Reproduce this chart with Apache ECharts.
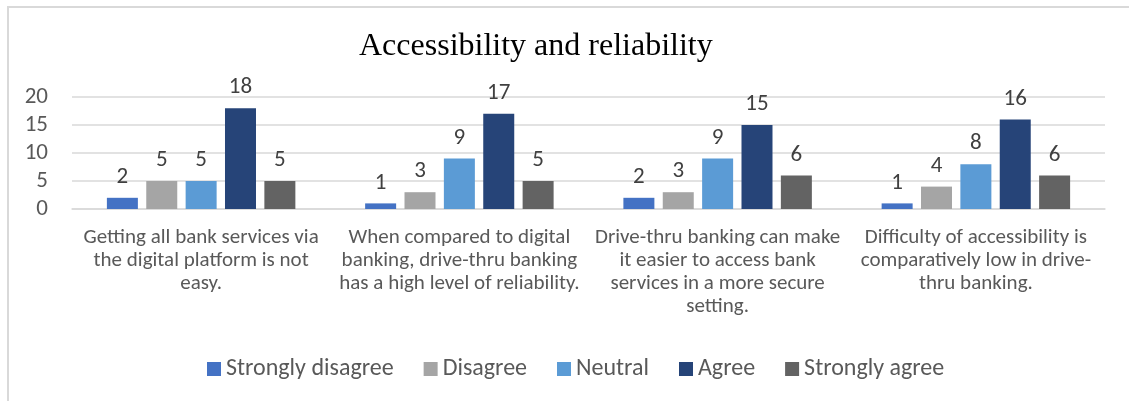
<!DOCTYPE html>
<html>
<head>
<meta charset="utf-8">
<script src="https://cdn.jsdelivr.net/npm/echarts@6/dist/echarts.min.js"></script>
<style>
  html, body { margin: 0; padding: 0; background: #fff; }
  #frame { position: absolute; left: 7px; top: 6px; width: 1140px; height: 420px;
           border-top: 2px solid #d9d9d9; border-left: 2px solid #d9d9d9; box-sizing: border-box; }
  #chart { position: absolute; left: 0; top: 0; width: 1129px; height: 401px; }
</style>
</head>
<body>
<div id="frame"></div>
<div id="chart"></div>
<script>
const categories = [
  'Getting all bank services via\nthe digital platform is not\neasy.',
  'When compared to digital\nbanking, drive-thru banking\nhas a high level of reliability.',
  'Drive-thru banking can make\nit easier to access bank\nservices in a more secure\nsetting.',
  'Difficulty of accessibility is\ncomparatively low in drive-\nthru banking.'
];
const seriesNames = ['Strongly disagree', 'Disagree', 'Neutral', 'Agree', 'Strongly agree'];
const stronglyDisagree = [2, 1, 2, 1];
const disagree = [5, 3, 3, 4];
const neutral = [5, 9, 9, 8];
const agree = [18, 17, 15, 16];
const stronglyAgree = [5, 5, 6, 6];
const yTicks = [0, 5, 10, 15, 20];

const colors = ['#4472C4', '#A5A5A5', '#5B9BD5', '#264478', '#636363'];
const values = [stronglyDisagree, disagree, neutral, agree, stronglyAgree];
const font = "Carlito, 'Liberation Sans Narrow', 'Open Sans', sans-serif";

const chart = echarts.init(document.getElementById('chart'), null, { renderer: 'canvas' });
chart.setOption({
  animation: false,
  backgroundColor: 'transparent',
  color: colors,
  title: {
    text: 'Accessibility and reliability',
    left: 354,
    top: 26,
    textStyle: { fontFamily: "'Liberation Serif', 'DejaVu Serif', serif", fontSize: 32, fontWeight: 'normal', color: '#000' }
  },
  legend: {
    top: 352,
    left: 202,
    itemWidth: 14,
    itemHeight: 14,
    itemGap: 30,
    icon: 'rect',
    textStyle: { fontFamily: font, fontSize: 24, color: '#595959' },
    data: seriesNames
  },
  grid: { left: 72, right: 24, top: 97, bottom: 192, containLabel: false },
  xAxis: {
    type: 'category',
    data: categories,
    axisLine: { show: true, lineStyle: { color: '#d9d9d9', width: 1.5 } },
    axisTick: { show: false },
    axisLabel: { fontFamily: font, fontSize: 21, color: '#595959', lineHeight: 23, margin: 17, interval: 0 }
  },
  yAxis: {
    type: 'value',
    min: yTicks[0],
    max: yTicks[yTicks.length - 1],
    interval: yTicks[1] - yTicks[0],
    axisLine: { show: false },
    axisTick: { show: false },
    splitLine: { lineStyle: { color: '#d9d9d9', width: 1.5 } },
    axisLabel: { fontFamily: font, fontSize: 23, color: '#595959', margin: 24 }
  },
  series: seriesNames.map((name, i) => ({
    name,
    type: 'bar',
    data: values[i],
    barWidth: 31,
    barGap: '27%',
    itemStyle: { color: colors[i] },
    label: { show: true, position: 'top', distance: 9, fontFamily: font, fontSize: 23, color: '#404040' }
  }))
});
</script>
</body>
</html>
